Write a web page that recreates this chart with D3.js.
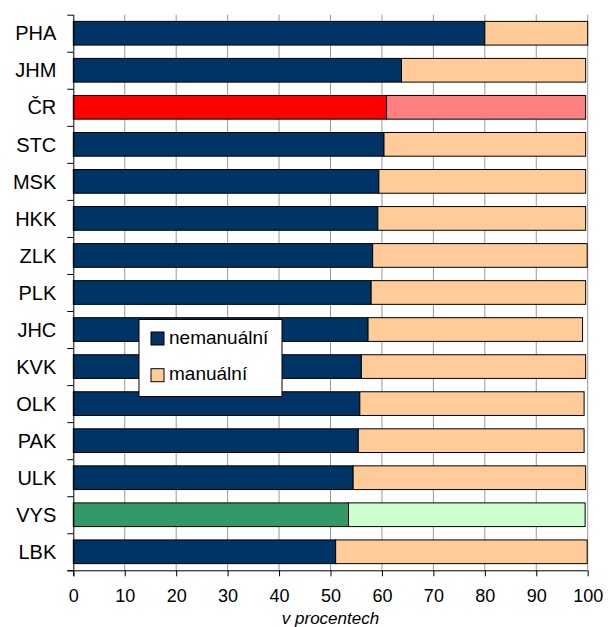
<!DOCTYPE html>
<html>
<head>
<meta charset="utf-8">
<script src="https://cdn.jsdelivr.net/npm/d3@7"></script>
<style>
  body { margin: 0; background: #fff; }
  text { font-family: Arial, "Liberation Sans", sans-serif; }
</style>
</head>
<body>
<script>
// kraje, seřazeno podle podílu nemanuálních
var categories = ["PHA", "JHM", "ČR", "STC", "MSK", "HKK", "ZLK", "PLK", "JHC", "KVK", "OLK", "PAK", "ULK", "VYS", "LBK"];
var nemanualni = [80.0, 63.8, 60.9, 60.4, 59.4, 59.2, 58.2, 57.9, 57.3, 56.0, 55.7, 55.4, 54.4, 53.5, 51.0];
var manualni   = [20.0, 35.8, 38.7, 39.2, 40.2, 40.4, 41.7, 41.7, 41.7, 43.6, 43.6, 43.9, 45.2, 46.0, 48.9];
var xTicks = [0, 10, 20, 30, 40, 50, 60, 70, 80, 90, 100];
var seriesNames = ["nemanuální", "manuální"];

var colors = {
  normal: ["#003366", "#FFCC99"],
  "ČR":   ["#FF0000", "#FF8080"],
  "VYS":  ["#339966", "#CCFFCC"]
};

var width = 608, height = 627;
var margin = {top: 14.7, right: 20.3, bottom: 56.7, left: 73.3};
var w = width - margin.left - margin.right,
    h = height - margin.top - margin.bottom;

var svg = d3.select("body").append("svg")
  .attr("width", width)
  .attr("height", height);

var g = svg.append("g")
  .attr("transform", "translate(" + margin.left + "," + margin.top + ")");

var x = d3.scaleLinear().domain([0, 100]).range([0, w]);
var y = d3.scaleBand().domain(categories).range([0, h]).paddingInner(0.36).paddingOuter(0.18);
var yEdge = d3.scaleLinear().domain([0, categories.length]).range([0, h]);

// gridlines
g.selectAll(".grid")
  .data(xTicks.slice(1))
  .enter().append("line")
  .attr("x1", function(d) { return x(d); })
  .attr("x2", function(d) { return x(d); })
  .attr("y1", 0)
  .attr("y2", h)
  .attr("stroke", "#999")
  .attr("stroke-width", 1);

var rows = categories.map(function(c, i) {
  return {cat: c, a: nemanualni[i], b: manualni[i]};
});

var bars = g.selectAll(".row")
  .data(rows)
  .enter().append("g");

bars.append("rect")
  .attr("x", x(0))
  .attr("y", function(d) { return y(d.cat); })
  .attr("width", function(d) { return x(d.a); })
  .attr("height", y.bandwidth())
  .attr("fill", function(d) { return (colors[d.cat] || colors.normal)[0]; })
  .attr("stroke", "#000")
  .attr("stroke-width", 1);

bars.append("rect")
  .attr("x", function(d) { return x(d.a); })
  .attr("y", function(d) { return y(d.cat); })
  .attr("width", function(d) { return x(d.a + d.b) - x(d.a); })
  .attr("height", y.bandwidth())
  .attr("fill", function(d) { return (colors[d.cat] || colors.normal)[1]; })
  .attr("stroke", "#000")
  .attr("stroke-width", 1);

// axes
var xAxis = g.append("g")
  .attr("transform", "translate(0," + h + ")")
  .call(d3.axisBottom(x).tickValues(xTicks).tickSize(6).tickSizeOuter(0).tickPadding(13));
xAxis.select(".domain").attr("d", "M-6,0.5H" + w);
xAxis.selectAll("text").attr("font-size", 18).attr("font-family", "Arial, 'Liberation Sans', sans-serif").attr("fill", "#000");

var yAxis = g.append("g")
  .call(d3.axisLeft(yEdge).tickValues(d3.range(categories.length + 1)).tickFormat("").tickSize(6).tickSizeOuter(0));
yAxis.select(".domain").attr("d", "M0.5,0V" + (h + 6));

g.selectAll(".cat")
  .data(categories)
  .enter().append("text")
  .attr("x", -17)
  .attr("y", function(d) { return y(d) + y.bandwidth() / 2; })
  .attr("dy", "0.36em")
  .attr("text-anchor", "end")
  .attr("font-size", 20)
  .text(function(d) { return d; });

svg.append("text")
  .attr("x", margin.left + w / 2)
  .attr("y", 623.5)
  .attr("text-anchor", "middle")
  .attr("font-size", 17)
  .attr("font-style", "italic")
  .text("v procentech");

// legend
var legend = svg.append("g").attr("transform", "translate(139,319.5)");
legend.append("rect")
  .attr("width", 143)
  .attr("height", 77)
  .attr("fill", "#fff")
  .attr("stroke", "#000")
  .attr("stroke-width", 1);

var items = legend.selectAll(".item")
  .data(seriesNames)
  .enter().append("g")
  .attr("transform", function(d, i) { return "translate(12," + (12.5 + i * 36.7) + ")"; });

items.append("rect")
  .attr("width", 13)
  .attr("height", 13)
  .attr("fill", function(d, i) { return colors.normal[i]; })
  .attr("stroke", "#000")
  .attr("stroke-width", 1);

items.append("text")
  .attr("x", 18)
  .attr("y", 11.5)
  .attr("font-size", 19)
  .text(function(d) { return d; });
</script>
</body>
</html>
